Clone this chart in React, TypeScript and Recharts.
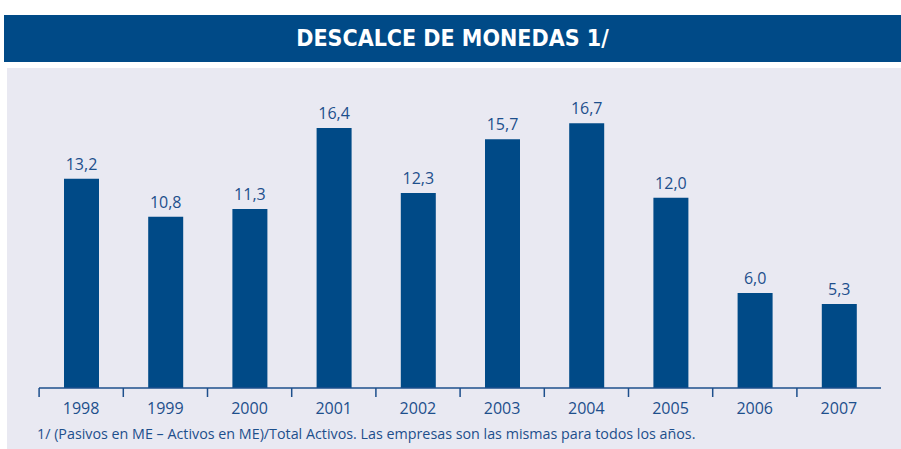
import { Bar, BarChart, LabelList, XAxis, YAxis } from "recharts";

const years = ["1998", "1999", "2000", "2001", "2002", "2003", "2004", "2005", "2006", "2007"];
const mismatch = [13.2, 10.8, 11.3, 16.4, 12.3, 15.7, 16.7, 12.0, 6.0, 5.3];

const data = years.map((year, i) => ({ year, value: mismatch[i] }));

const BLUE = "#004a87";
const TEXT = "#1d4f8c";
const FONT = "'Open Sans', sans-serif";

// tick mark at the left edge of each category, label in the middle
function YearTick(props: any) {
  const { x, y, payload } = props;
  const half = 42;
  return (
    <g>
      <line x1={x - half} y1={y - 8} x2={x - half} y2={y + 1} stroke={TEXT} strokeWidth={1.5} />
      <text x={x} y={y + 18} textAnchor="middle" fill={TEXT} fontSize={16} fontFamily={FONT}>
        {payload.value}
      </text>
    </g>
  );
}

const fmt = (v: any) => Number(v).toFixed(1).replace(".", ",");

export default function App() {
  return (
    <div style={{ position: "absolute", left: 0, top: 0, width: 901, height: 449, background: "#ffffff", overflow: "hidden" }}>
      <div
        style={{
          position: "absolute", left: 4, top: 15, width: 897, height: 47, background: BLUE,
          color: "#ffffff", fontFamily: "'DejaVu Sans Condensed', 'DejaVu Sans', sans-serif",
          fontWeight: 700, fontSize: 23, lineHeight: "47px", textAlign: "center",
        }}
      >
        DESCALCE DE MONEDAS 1/
      </div>
      <div style={{ position: "absolute", left: 7, top: 68, width: 894, height: 381, background: "#e9e9f2" }} />
      <div style={{ position: "absolute", left: 0, top: 0 }}>
        <BarChart width={901} height={449} data={data} margin={{ top: 71, right: 20, bottom: 31, left: 39 }}>
          <YAxis hide domain={[0, 20]} />
          <XAxis
            dataKey="year"
            height={30}
            axisLine={{ stroke: TEXT, strokeWidth: 1.5 }}
            tickLine={false}
            interval={0}
            tick={<YearTick />}
          />
          <Bar dataKey="value" fill={BLUE} barSize={35} isAnimationActive={false}>
            <LabelList dataKey="value" position="top" offset={9} formatter={fmt} fill={TEXT} fontSize={16} fontFamily={FONT} />
          </Bar>
        </BarChart>
      </div>
      <div
        style={{
          position: "absolute", left: 37, top: 424, color: TEXT, fontFamily: FONT, fontSize: 14.3,
          whiteSpace: "nowrap",
        }}
      >
        1/ (Pasivos en ME – Activos en ME)/Total Activos. Las empresas son las mismas para todos los años.
      </div>
    </div>
  );
}
